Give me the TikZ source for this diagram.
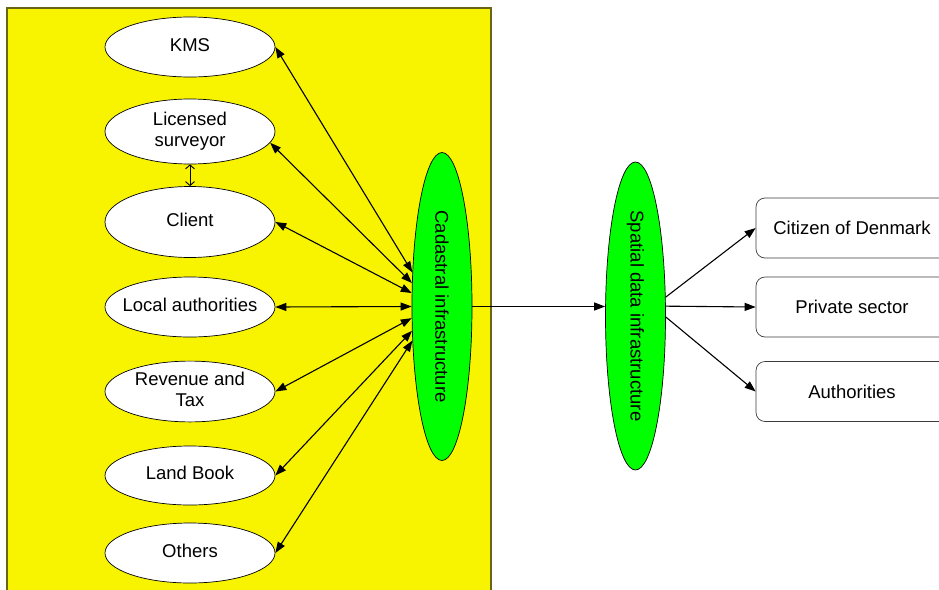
\documentclass[tikz,border=0pt]{standalone}
\usepackage{fontspec}
\setmainfont{Liberation Sans}
\usetikzlibrary{arrows.meta,shapes.geometric,calc}

\definecolor{panelyellow}{RGB}{248,244,0}
\definecolor{panelborder}{RGB}{105,100,20}
\definecolor{infragreen}{RGB}{0,255,0}
\definecolor{boxborder}{RGB}{60,60,60}

% text set in a zero-width box so that the ellipse keeps its own width
\newcommand\actortext[1]{\raisebox{-1.5pt}{\makebox[0pt]{\begin{tabular}{@{}c@{}}#1\end{tabular}}}}

\tikzset{
  actor/.style={ellipse, draw=black, line width=0.7pt, fill=white,
    minimum width=170pt, inner sep=0pt},
  infra/.style={ellipse, draw=black, line width=0.7pt, fill=infragreen,
    minimum width=60pt, minimum height=308pt, inner sep=0pt},
  infratext/.style={rotate=-90},
  user/.style={rectangle, rounded corners=9pt, draw=boxborder, line width=0.7pt,
    fill=white, minimum width=192pt, minimum height=60pt, inner sep=0pt},
  link/.style={line width=1.1pt, {Triangle[length=11pt,width=8pt]}-{Triangle[length=11pt,width=8pt]}},
  flow/.style={line width=1.1pt, -{Triangle[length=11pt,width=8pt]}},
  peer/.style={line width=0.9pt, {Straight Barb[length=4pt,width=9pt]}-{Straight Barb[length=4pt,width=9pt]}}
}

\begin{document}
\begin{tikzpicture}[x=1pt, y=-1pt, font=\fontsize{18.5}{21.5}\selectfont]
  \useasboundingbox (0,0) rectangle (939,589);

  % yellow panel holding the cadastral actors
  \fill[panelyellow] (7,8) rectangle (491,600);
  \draw[panelborder, line width=1.2pt] (7,600) -- (7,8) -- (491,8) -- (491,600);

  % actors
  \node[actor, minimum height=60pt] (kms) at (190,47) {\actortext{KMS}};
  \node[actor, minimum height=65pt] (lic) at (190,131.5) {\actortext{Licensed\\surveyor}};
  \node[actor, minimum height=71pt] (cli) at (190,222) {\actortext{Client}};
  \node[actor, minimum height=60pt] (loc) at (190,307) {\actortext{Local authorities}};
  \node[actor, minimum height=59pt] (rev) at (190,391.5) {\actortext{Revenue and\\Tax}};
  \node[actor, minimum height=59pt] (lb)  at (190,475.5) {\actortext{Land Book}};
  \node[actor, minimum height=60pt] (oth) at (190,553) {\actortext{Others}};

  % infrastructures
  \node[infra] (cad) at (442,306.5) {};
  \node[infratext] at (cad) {Cadastral infrastructure};
  \node[infra] (sdi) at (635.5,316) {};
  \node[infratext] at (sdi) {Spatial data infrastructure};

  % users of the spatial data
  \node[user] (cit) at (852,228) {Citizen of Denmark};
  \node[user] (pri) at (852,307) {Private sector};
  \node[user] (aut) at (852,391.5) {Authorities};

  % exchanges with the cadastral infrastructure
  \draw[link] (kms.east) -- (cad.131.6);
  \draw[link] (lic.-8) -- (cad.142.2);
  \draw[link] (cli.east) -- (cad.156.5);
  \draw[link] (loc.east) -- (cad.180);
  \draw[link] (rev.east) -- (cad.201.9);
  \draw[link] (lb.east) -- (cad.219);
  \draw[link] (oth.east) -- (cad.229.2);
  \draw[peer] (lic.south) -- (cli.north);

  % cadastre feeds the spatial data infrastructure
  \draw[flow] (cad.east) -- (cad.east -| sdi.west);

  % spatial data out to users
  \draw[flow] (sdi.32) -- (cit.west);
  \draw[flow] (sdi.18) -- (pri.west);
  \draw[flow] (sdi.-2) -- (aut.west);
\end{tikzpicture}
\end{document}
